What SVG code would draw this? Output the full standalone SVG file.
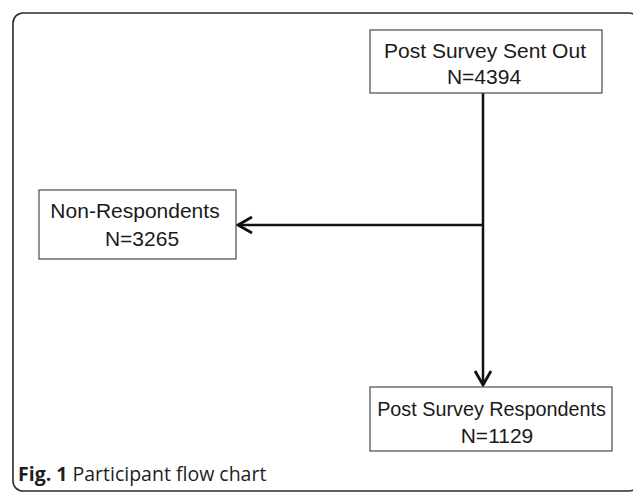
<svg xmlns="http://www.w3.org/2000/svg" width="633" height="493" viewBox="0 0 633 493">
<defs>
<style>
.frame{fill:none;stroke:#2b2b2b;stroke-width:1.6}
.box{fill:#fff;stroke:#4a4a4a;stroke-width:1.2}
.lbl{font-family:"Liberation Sans",Arial,sans-serif;font-size:21px;fill:#1a1a1a;text-anchor:middle}
.edge{fill:none;stroke:#111;stroke-width:2.5}
.cap{font-family:"Open Sans","Noto Sans",sans-serif;font-size:19.5px;fill:#1e1e1e}
</style>
<marker id="arr" viewBox="0 0 20 20" refX="17" refY="10" markerWidth="20" markerHeight="20" markerUnits="userSpaceOnUse" orient="auto">
<path d="M3,2 L17,10 L3,18" fill="none" stroke="#111" stroke-width="2.8" stroke-linejoin="miter"/>
</marker>
</defs>
<rect class="frame" x="13" y="13" width="626" height="478" rx="10" ry="10"/>
<g id="connectors">
<line class="edge" x1="483" y1="93" x2="483" y2="385" marker-end="url(#arr)"/>
<line class="edge" x1="483" y1="225" x2="238" y2="225" marker-end="url(#arr)"/>
</g>
<g id="sent">
<rect class="box" x="370" y="30" width="232" height="63"/>
<text class="lbl" x="485" y="58">Post Survey Sent Out</text>
<text class="lbl" x="484" y="84">N=4394</text>
</g>
<g id="nonresp">
<rect class="box" x="39" y="190" width="197" height="69"/>
<text class="lbl" x="135" y="218">Non-Respondents</text>
<text class="lbl" x="142" y="246">N=3265</text>
</g>
<g id="resp">
<rect class="box" x="370" y="387" width="242" height="64"/>
<text class="lbl" x="491.5" y="416" style="font-size:19.8px">Post Survey Respondents</text>
<text class="lbl" x="497" y="443">N=1129</text>
</g>
<text class="cap" x="18" y="481"><tspan font-weight="bold">Fig. 1</tspan> Participant flow chart</text>
</svg>
